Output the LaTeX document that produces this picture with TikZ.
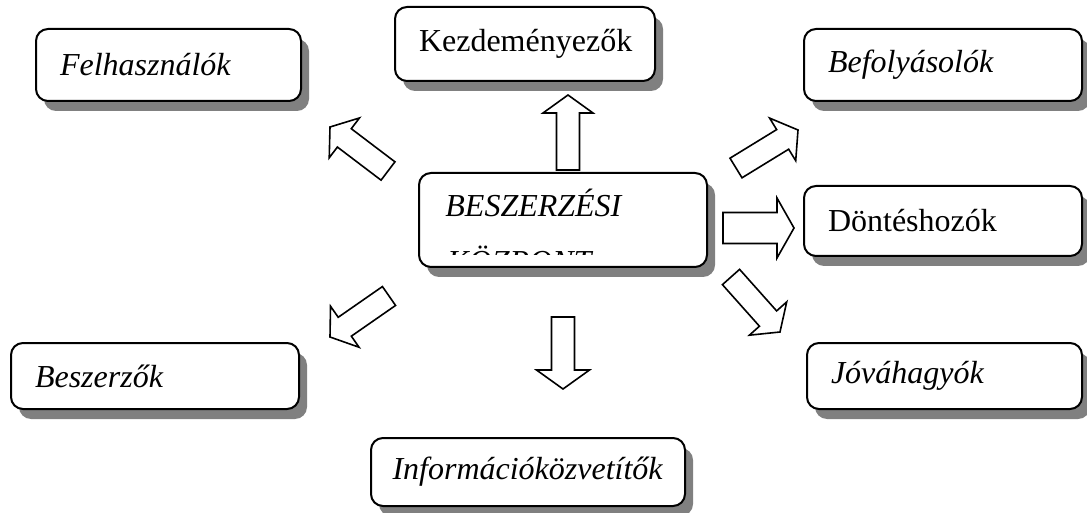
\documentclass[tikz,border=0pt]{standalone}
\usepackage{fontspec}
\setmainfont{Liberation Serif}
\usetikzlibrary{calc,shadows}

% block arrow from a tail coordinate to a tip coordinate
\newcommand{\blockarrow}[5]{%
  \coordinate (#1-base) at ($(#2)!#5!(#1)$);
  \draw[blockarrow] ($(#1)!#3!90:(#2)$) -- ($(#1-base)!#3!-90:(#1)$) -- ($(#1-base)!#4!-90:(#1)$)
    -- (#2) -- ($(#1-base)!#4!90:(#1)$) -- ($(#1-base)!#3!90:(#1)$) -- ($(#1)!#3!-90:(#2)$) -- cycle;
}

\begin{document}
\begin{tikzpicture}[x=0.5pt, y=-0.5pt,
    card/.style={draw, line width=1pt, rounded corners=6pt, fill=white,
      drop shadow={shadow xshift=4pt, shadow yshift=-5pt, fill=black!50, opacity=1},
      anchor=north west, inner xsep=12pt, inner ysep=0pt, align=left,
      font=\fontsize{16}{19}\selectfont},
    cardit/.style={card, font=\fontsize{16}{19}\selectfont\itshape},
    blockarrow/.style={draw, line width=0.8pt, fill=white, line join=miter}]

\useasboundingbox (0,0) rectangle (1087,513);

\node[cardit, minimum width=132.5pt, minimum height=36pt, text width=108.5pt] (users) at (35,28) {Felhasználók};
\node[card, minimum width=130pt, minimum height=37pt, text width=106pt] (initiators) at (394,6) {Kezdeményezők};
\node[cardit, minimum width=139pt, minimum height=36pt, text width=115pt] (influencers) at (803,28) {Befolyásolók};
\node[card, minimum width=139pt, minimum height=35pt, text width=115pt] (deciders) at (803,185) {Döntéshozók};
\node[cardit, minimum width=144pt, minimum height=33pt, text width=120pt] (buyers) at (10,342) {Beszerzők};
\node[cardit, minimum width=137.5pt, minimum height=33pt, text width=113.5pt] (approvers) at (806,342) {Jóváhagyók};
\node[cardit, minimum width=157pt, minimum height=34pt, text width=135.5pt, inner xsep=10.75pt] (gatekeepers) at (370,437) {Információközvetítők};

% buying centre, its second line cut off by the box
\node[card, minimum width=144pt, minimum height=47pt, text width=120pt] (centre) at (418,172) {};
\begin{scope}
  \clip (420,174) rectangle (704,255);
  \node[anchor=base west, inner sep=0pt, font=\fontsize{16}{19}\selectfont\itshape] (centretop) at (445,217) {BESZERZÉSI};
  \node[anchor=base west, inner sep=0pt, font=\fontsize{16}{19}\selectfont\itshape] (centrebot) at (447,273) {KÖZPONT};
\end{scope}

\coordinate (uptail) at (568,170);   \coordinate (uptip) at (568,95);
\coordinate (righttail) at (723,228); \coordinate (righttip) at (794,228);
\coordinate (downtail) at (563,317); \coordinate (downtip) at (563,389);
\coordinate (ultail) at (388,171);   \coordinate (ultip) at (330,127);
\coordinate (urtail) at (736,168);   \coordinate (urtip) at (798,130);
\coordinate (drtail) at (731,277);   \coordinate (drtip) at (780,332);
\coordinate (dltail) at (389,296);   \coordinate (dltip) at (330,337);

\blockarrow{uptail}{uptip}{5.75pt}{12.5pt}{9pt}
\blockarrow{righttail}{righttip}{7.75pt}{15pt}{8.5pt}
\blockarrow{downtail}{downtip}{5.75pt}{13.25pt}{9.5pt}
\blockarrow{ultail}{ultip}{5.75pt}{12.5pt}{9pt}
\blockarrow{urtail}{urtip}{5.75pt}{12.5pt}{9pt}
\blockarrow{drtail}{drtip}{5.75pt}{12.5pt}{9pt}
\blockarrow{dltail}{dltip}{5.75pt}{12.5pt}{9pt}

\end{tikzpicture}
\end{document}
